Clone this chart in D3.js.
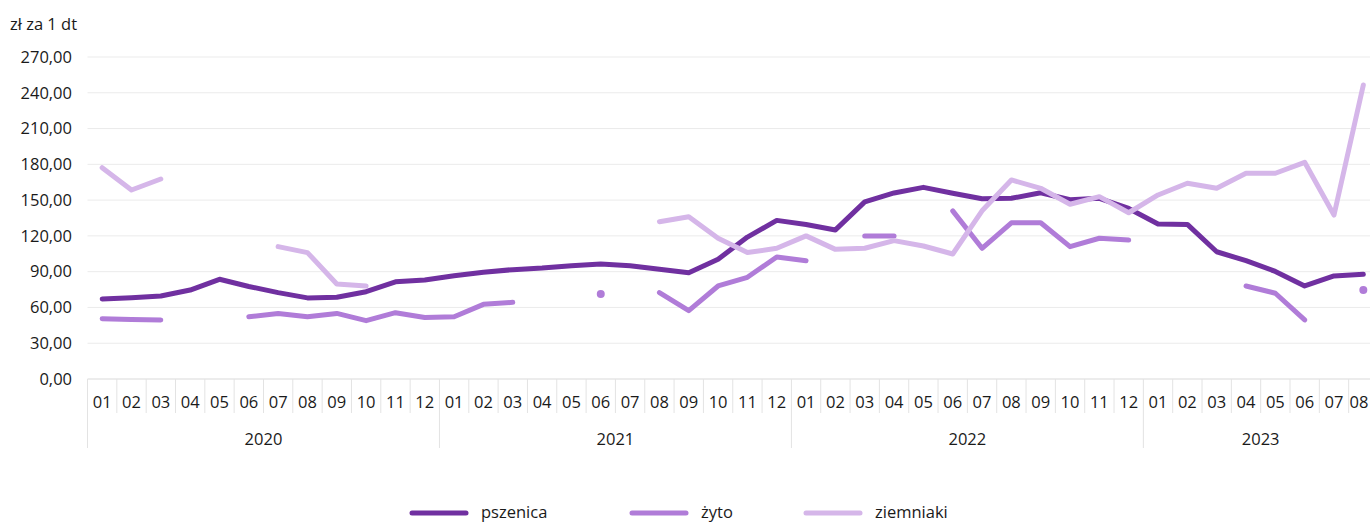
<!DOCTYPE html>
<html>
<head>
<meta charset="utf-8">
<script src="https://cdn.jsdelivr.net/npm/d3@7"></script>
<style>
  body { margin: 0; background: #fff; }
  svg { font-family: "Open Sans", sans-serif; }
</style>
</head>
<body>
<div id="chart"></div>
<script>
var width = 1370,
  height = 523;

var years = ["2020", "2021", "2022", "2023"];
var months = [
  "01","02","03","04","05","06","07","08","09","10","11","12",
  "01","02","03","04","05","06","07","08","09","10","11","12",
  "01","02","03","04","05","06","07","08","09","10","11","12",
  "01","02","03","04","05","06","07","08"
];
var monthYear = months.map(function (m, i) { return years[Math.floor(i / 12)]; });

var yTicks = [0, 30, 60, 90, 120, 150, 180, 210, 240, 270];

// null = brak danych
var pszenica = [
  67.1, 68.2, 69.6, 74.6, 83.6, 77.6, 72.4, 68.0, 68.6, 73.2, 81.5, 83.0,
  86.6, 89.6, 91.7, 93.0, 95.0, 96.4, 95.0, 92.0, 89.1, 100.4, 119.0, 133.0,
  129.6, 125.0, 148.5, 156.0, 160.7, 155.7, 151.2, 151.5, 156.2, 150.3, 151.5, 143.0,
  130.0, 129.6, 106.7, 99.2, 90.2, 78.0, 86.4, 87.8
];
var zyto = [
  50.5, 49.9, 49.5, null, null, 52.2, 55.0, 52.2, 55.0, 48.9, 55.6, 51.6,
  52.2, 62.6, 64.3, null, null, 71.3, null, 72.4, 57.3, 78.0, 85.3, 102.3,
  99.2, null, 120.0, 120.0, null, 141.0, 109.6, 131.0, 131.0, 111.0, 118.0, 116.5,
  null, null, null, 78.0, 71.9, 49.5, null, 74.6
];
var ziemniaki = [
  177.2, 158.5, 167.7, null, null, null, 111.0, 106.0, 79.7, 78.0, null, null,
  null, null, null, null, null, null, null, 131.9, 136.1, 118.0, 106.0, 109.6,
  120.0, 108.7, 109.6, 116.0, 111.5, 104.8, 141.0, 166.9, 159.9, 146.5, 152.9, 139.4,
  154.3, 164.1, 160.0, 172.5, 172.5, 181.7, 137.5, 246.5
];

var seriesNames = ["pszenica", "żyto", "ziemniaki"];
var seriesValues = [pszenica, zyto, ziemniaki];
var colors = ["#7030a0", "#b07cd8", "#d5b6e9"];

var fs = 16.5;

var svg = d3.select("#chart").append("svg")
  .attr("width", width)
  .attr("height", height);

var x = d3.scaleBand()
  .domain(d3.range(months.length))
  .range([87.5, 1378])
  .padding(0);

var y = d3.scaleLinear()
  .domain([0, 270])
  .range([379, 57]);

// grid
svg.append("g")
  .selectAll("line")
  .data(yTicks)
  .enter().append("line")
  .attr("x1", 87.5)
  .attr("x2", width)
  .attr("y1", function (d) { return y(d); })
  .attr("y2", function (d) { return y(d); })
  .attr("stroke", function (d) { return d === 0 ? "#d9d9d9" : "#ebebeb"; })
  .attr("stroke-width", 1);

// y axis labels
var yAxis = d3.axisLeft(y)
  .tickValues(yTicks)
  .tickSize(0)
  .tickPadding(0)
  .tickFormat(function (d) { return d3.format(".2f")(d).replace(".", ","); });

svg.append("g")
  .attr("transform", "translate(72,0)")
  .call(yAxis)
  .call(function (g) { g.select(".domain").remove(); })
  .selectAll("text")
  .attr("font-size", fs)
  .attr("font-family", "Open Sans, sans-serif")
  .attr("fill", "#1a1a1a");

svg.append("text")
  .attr("x", 10)
  .attr("y", 30)
  .attr("font-size", fs)
  .attr("fill", "#1a1a1a")
  .text("zł za 1 dt");

// x axis: months
var xg = svg.append("g");

xg.selectAll(".msep")
  .data(d3.range(months.length + 1))
  .enter().append("line")
  .attr("x1", function (i) { return 87.5 + i * x.bandwidth(); })
  .attr("x2", function (i) { return 87.5 + i * x.bandwidth(); })
  .attr("y1", 379)
  .attr("y2", function (i) { return i % 12 === 0 ? 448 : 413; })
  .attr("stroke", "#e3e3e3");

xg.selectAll(".mlab")
  .data(months)
  .enter().append("text")
  .attr("x", function (d, i) { return Math.min(x(i) + x.bandwidth() / 2, width - 11); })
  .attr("y", 408)
  .attr("text-anchor", "middle")
  .attr("font-size", fs)
  .attr("fill", "#1a1a1a")
  .text(function (d) { return d; });

// x axis: years
xg.selectAll(".ylab")
  .data(years)
  .enter().append("text")
  .attr("x", function (d) {
    var idx = monthYear.map(function (v, i) { return v === d ? i : -1; }).filter(function (i) { return i >= 0; });
    var a = x(idx[0]), b = x(idx[0]) + idx.length * x.bandwidth();
    return (a + b) / 2;
  })
  .attr("y", 445)
  .attr("text-anchor", "middle")
  .attr("font-size", fs)
  .attr("fill", "#1a1a1a")
  .text(function (d) { return d; });

// lines
var line = d3.line()
  .defined(function (d) { return d != null; })
  .x(function (d, i) { return x(i) + x.bandwidth() / 2; })
  .y(function (d) { return y(d); });

seriesValues.forEach(function (vals, s) {
  svg.append("path")
    .datum(vals)
    .attr("fill", "none")
    .attr("stroke", colors[s])
    .attr("stroke-width", 5)
    .attr("stroke-linejoin", "round")
    .attr("stroke-linecap", "round")
    .attr("d", line);

  // isolated points
  var lone = vals.map(function (v, i) {
    var prev = i > 0 ? vals[i - 1] : null, next = i < vals.length - 1 ? vals[i + 1] : null;
    return (v != null && prev == null && next == null) ? i : -1;
  }).filter(function (i) { return i >= 0; });

  svg.selectAll(".dot" + s)
    .data(lone)
    .enter().append("circle")
    .attr("cx", function (i) { return x(i) + x.bandwidth() / 2; })
    .attr("cy", function (i) { return y(vals[i]); })
    .attr("r", 4)
    .attr("fill", colors[s]);
});

// legend
var legendX = [412, 632, 806];
var legend = svg.append("g");
seriesNames.forEach(function (name, s) {
  legend.append("line")
    .attr("x1", legendX[s])
    .attr("x2", legendX[s] + 54)
    .attr("y1", 513)
    .attr("y2", 513)
    .attr("stroke", colors[s])
    .attr("stroke-width", 5)
    .attr("stroke-linecap", "round");
  legend.append("text")
    .attr("x", legendX[s] + 69)
    .attr("y", 518)
    .attr("font-size", fs)
    .attr("fill", "#1a1a1a")
    .text(name);
});
</script>
</body>
</html>
